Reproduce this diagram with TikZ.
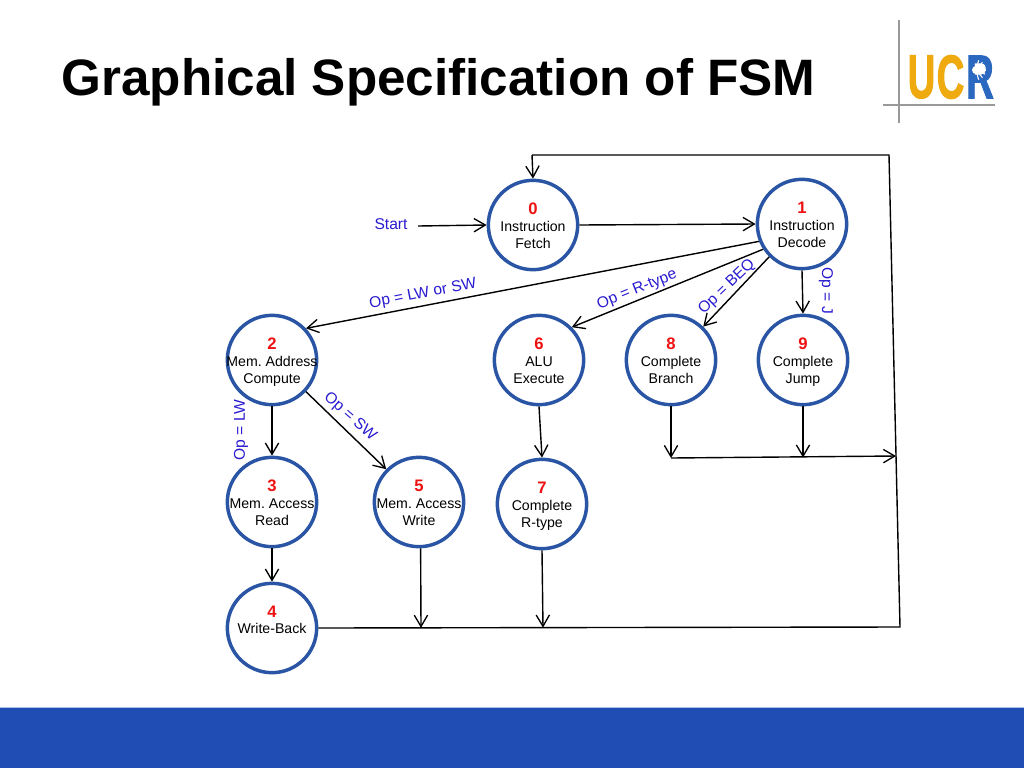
\documentclass[tikz,border=0pt]{standalone}
\usepackage{fontspec}
\setmainfont{Liberation Sans}
\newfontfamily\logofont{Liberation Sans Bold}[FakeBold=2.2]
\usetikzlibrary{arrows.meta}
\definecolor{ringblue}{HTML}{2A55A5}
\definecolor{labelblue}{HTML}{2A1BD0}
\definecolor{bandblue}{HTML}{1F4DB3}
\definecolor{bandedge}{HTML}{A9C3E8}
\definecolor{ucgold}{HTML}{EFAA0F}
\definecolor{ucblue}{HTML}{2B68C0}
\definecolor{numred}{HTML}{EE1111}
\newcommand{\statetext}[3]{\smash{\makebox[0pt]{\raisebox{-4.9pt}{\renewcommand{\arraystretch}{0.97}\frenchspacing\begin{tabular}{@{}c@{}}\fontsize{12.5}{13}\selectfont\bfseries\textcolor{numred}{#1}\\#2\\#3\end{tabular}}}}}
\tikzset{
  x=0.75pt,y=-0.75pt,
  statenode/.style={circle,draw=ringblue,line width=2.6pt,minimum size=67pt,inner sep=0pt,fill=white,
    font=\fontsize{10.6}{13}\selectfont,text=black},
  edgelabel/.style={text=labelblue,font=\fontsize{11.7}{13}\selectfont,inner sep=0pt},
  flow/.style={draw=black,line width=1.05pt,-{Straight Barb[length=8.5pt,width=10pt,line width=1pt]}},
  plainflow/.style={draw=black,line width=1.05pt},
  logoline/.style={draw=black!40,line width=1.4pt},
  logotext/.style={font=\fontsize{46}{50}\logofont,inner sep=0pt,xscale=0.62}
}
\begin{document}
\begin{tikzpicture}
\useasboundingbox (0,0) rectangle (1024,768);
\fill[white] (0,0) rectangle (1024,768);
\fill[bandblue] (0,708) rectangle (1024,768);
\fill[bandedge] (0,707.3) rectangle (1024,708.4);
\node[font=\fontsize{38.4}{44}\selectfont\bfseries,inner sep=0pt] (title) at (438.5,82) {Graphical Specification of FSM};
% logo
\draw[logoline] (899,20) -- (899,123);
\draw[logoline] (883,105) -- (995,105);
\node[logotext,text=ucgold] (logou) at (921.5,77) {U};
\node[logotext,text=ucgold] (logoc) at (950.5,77) {C};
\node[logotext,text=ucblue] (logor) at (980,77) {R};
\fill[white] (976,70) circle (3pt);
\foreach \a in {-75,-50,-25,0,25,50,75} \draw[white,line width=0.8pt] (976,70) -- ++(\a:7.5pt);
% states
\node[statenode] (s0) at (533,225) {\statetext{0}{Instruction}{Fetch}};
\node[statenode] (s1) at (802,224) {\statetext{1}{Instruction}{Decode}};
\node[statenode] (s2) at (272,360) {\statetext{2}{Mem. Address}{Compute}};
\node[statenode] (s6) at (539,360) {\statetext{6}{ALU}{Execute}};
\node[statenode] (s8) at (671,360) {\statetext{8}{Complete}{Branch}};
\node[statenode] (s9) at (803,360) {\statetext{9}{Complete}{Jump}};
\node[statenode] (s3) at (272,502) {\statetext{3}{Mem. Access}{Read}};
\node[statenode] (s5) at (419,502) {\statetext{5}{Mem. Access}{Write}};
\node[statenode] (s7) at (542,504) {\statetext{7}{Complete}{R-type}};
\node[statenode] (s4) at (272,628) {\statetext{4}{Write-Back}{\strut}};
% free ends
\coordinate (startend) at (418,226);
\coordinate (topright) at (889,155);
\coordinate (topleft) at (532,155);
\coordinate (botright) at (900,627);
\coordinate (j8) at (671,458);
\coordinate (j9) at (803,457.5);
\coordinate (jr) at (896,456);
\coordinate (j5) at (421,627.8);
\coordinate (j7) at (543,627.6);
% connectors
\draw[flow] (startend) -- (s0.west);
\draw[flow] (s0.east) -- (s1.west);
\draw[flow] (s1.202) -- (s2.43);
\draw[flow] (s1.213) -- (s6.45);
\draw[flow] (s1.225) -- (s8.46);
\draw[flow] (s1.south) -- (s9.north);
\draw[flow] (s2.south) -- (s3.north);
\draw[flow] (s2.-43) -- (s5.135);
\draw[flow] (s3.south) -- (s4.north);
\draw[flow] (s6.south) -- (s7.north);
\draw[flow] (s8.south) -- (j8);
\draw[flow] (s9.south) -- (j9);
\draw[flow] (j8) -- (jr);
\draw[flow] (s5.-88) -- (j5);
\draw[flow] (s7.south) -- (j7);
\draw[plainflow] (s4.east) -- (botright) -- (topright) -- (topleft);
\draw[flow] (topleft) -- (s0.north);
% labels
\node[edgelabel] (lstart) at (391,224) {Start};
\node[edgelabel,rotate=11] (l2) at (423,294) {Op = LW or SW};
\node[edgelabel,rotate=22] (l6) at (637,290) {Op = R-type};
\node[edgelabel,rotate=44] (l8) at (727,287) {Op = BEQ};
\node[edgelabel,rotate=-90] (l9) at (826,291) {Op = J};
\node[edgelabel,rotate=90] (l3) at (241,430) {Op = LW};
\node[edgelabel,rotate=-41] (l5) at (350,417) {Op = SW};
\end{tikzpicture}
\end{document}
